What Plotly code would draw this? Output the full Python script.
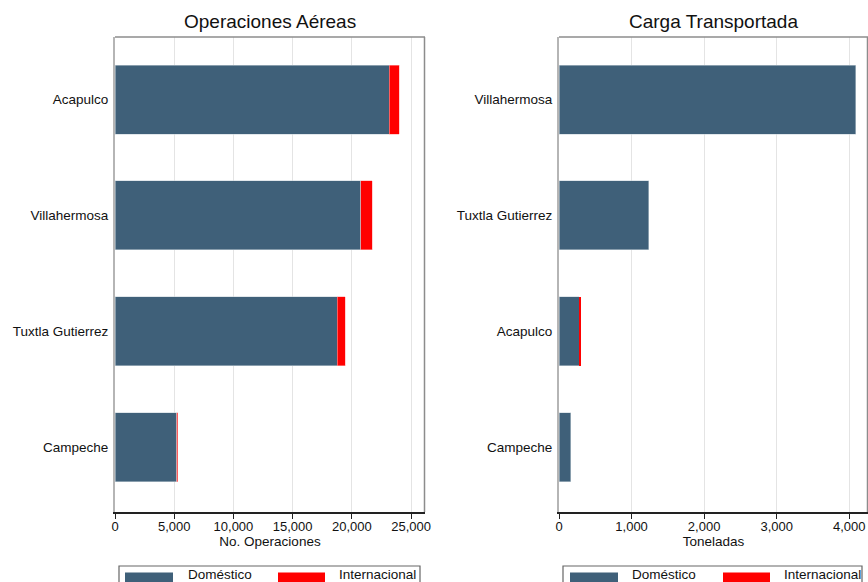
import plotly.graph_objects as go

# ---------------- data ----------------
ops_cats = ["Acapulco", "Villahermosa", "Tuxtla Gutierrez", "Campeche"]
ops_dom = [23170, 20740, 18760, 5200]
ops_int = [815, 990, 680, 100]

cargo_cats = ["Villahermosa", "Tuxtla Gutierrez", "Acapulco", "Campeche"]
cargo_dom = [4088, 1237, 276, 161]
cargo_int = [0, 0, 14, 0]

ops_ticks = [0, 5000, 10000, 15000, 20000, 25000]
cargo_ticks = [0, 1000, 2000, 3000, 4000]

legend_names = ["Doméstico", "Internacional"]

# ---------------- style ----------------
W, H = 868, 582
DOM_COLOR = "#3F6079"
INT_COLOR = "#FF0000"
EDGE = "rgba(200,210,218,0.9)"
FONT = "Liberation Sans, Arial, Helvetica, sans-serif"
GRID = "#E4E4E4"
BOX = "#8C8C8C"

def px_x(p):
    return p / W

def px_y(p):
    return 1 - p / H

top_px, bot_px = 37, 512
left_dom = [px_x(115), px_x(425)]
right_dom = [px_x(559), px_x(868)]
y_dom = [px_y(bot_px), px_y(top_px)]

fig = go.Figure()

fig.add_trace(go.Bar(y=ops_cats, x=ops_dom, orientation="h", name=legend_names[0],
                     marker=dict(color=DOM_COLOR, line=dict(color=EDGE, width=0.6)),
                     xaxis="x", yaxis="y", showlegend=False))
fig.add_trace(go.Bar(y=ops_cats, x=ops_int, orientation="h", name=legend_names[1],
                     marker=dict(color=INT_COLOR, line=dict(color="rgba(255,170,170,0.9)", width=0.6)),
                     xaxis="x", yaxis="y", showlegend=False))
fig.add_trace(go.Bar(y=cargo_cats, x=cargo_dom, orientation="h", name=legend_names[0],
                     marker=dict(color=DOM_COLOR, line=dict(color=EDGE, width=0.6)),
                     xaxis="x2", yaxis="y2", showlegend=False))
fig.add_trace(go.Bar(y=cargo_cats, x=cargo_int, orientation="h", name=legend_names[1],
                     marker=dict(color=INT_COLOR, line=dict(width=0)),
                     xaxis="x2", yaxis="y2", showlegend=False))

xcommon = dict(showgrid=True, gridcolor=GRID, gridwidth=1, zeroline=False,
               showline=True, linecolor="#222222", linewidth=1.5,
               ticks="outside", ticklen=5, tickcolor="#222222", tickwidth=1.2,
               ticklabelstandoff=-3,
               tickformat=",", tickfont=dict(size=13, color="#111111"),
               title_font=dict(size=13.5, color="#111111"), title_standoff=3,
               automargin=False)
ycommon = dict(type="category", showgrid=False, zeroline=False, showline=True,
               linecolor="#B5B5B5", linewidth=2, ticks="", ticklabelstandoff=2,
               tickfont=dict(size=13.5, color="#111111"), range=[3.56, -0.54],
               automargin=False)

fig.update_layout(
    width=W, height=H,
    margin=dict(l=0, r=0, t=0, b=0, autoexpand=False),
    paper_bgcolor="white", plot_bgcolor="white",
    font=dict(family=FONT, color="#111111"),
    barmode="stack", bargap=0.404,
    xaxis=dict(domain=left_dom, anchor="y", range=[0, 26175], tickvals=ops_ticks,
               title_text="No. Operaciones", **xcommon),
    yaxis=dict(domain=y_dom, anchor="x", **ycommon),
    xaxis2=dict(domain=right_dom, anchor="y2", range=[0, 4258], tickvals=cargo_ticks,
                title_text="Toneladas", **xcommon),
    yaxis2=dict(domain=y_dom, anchor="x2", **ycommon),
)

shapes = []
annotations = []
# plot boxes (top & right edges)
for (x0, x1) in [(115, 425), (559, 868)]:
    shapes.append(dict(type="line", xref="paper", yref="paper",
                       x0=px_x(x0), x1=px_x(x1), y0=px_y(top_px), y1=px_y(top_px),
                       line=dict(color=BOX, width=1.5)))
    shapes.append(dict(type="line", xref="paper", yref="paper",
                       x0=px_x(x1 - 0.5), x1=px_x(x1 - 0.5), y0=px_y(top_px), y1=px_y(bot_px),
                       line=dict(color=BOX, width=1.5)))

# titles
annotations.append(dict(text="Operaciones Aéreas", xref="paper", yref="paper",
                        x=px_x(270), y=px_y(22), showarrow=False,
                        font=dict(size=19, color="#111111"), xanchor="center", yanchor="middle"))
annotations.append(dict(text="Carga Transportada", xref="paper", yref="paper",
                        x=px_x(713.5), y=px_y(22), showarrow=False,
                        font=dict(size=19, color="#111111"), xanchor="center", yanchor="middle"))

# legends (drawn as boxes with swatches)
for (bx0, bx1, s1, t1, s2, t2) in [(119, 420, 125, 186, 278, 337),
                                    (563, 862, 570, 630, 723, 782)]:
    shapes.append(dict(type="rect", xref="paper", yref="paper",
                       x0=px_x(bx0), x1=px_x(bx1), y0=px_y(590), y1=px_y(566),
                       line=dict(color="#666666", width=1.2), fillcolor="white"))
    shapes.append(dict(type="rect", xref="paper", yref="paper",
                       x0=px_x(s1), x1=px_x(s1 + 48), y0=px_y(585), y1=px_y(572.5),
                       line=dict(width=0), fillcolor=DOM_COLOR))
    shapes.append(dict(type="rect", xref="paper", yref="paper",
                       x0=px_x(s2), x1=px_x(s2 + 47), y0=px_y(585), y1=px_y(572.5),
                       line=dict(width=0), fillcolor=INT_COLOR))
    annotations.append(dict(text=legend_names[0], xref="paper", yref="paper",
                            x=px_x(t1), y=px_y(574), xanchor="left", yanchor="middle",
                            showarrow=False, font=dict(size=13.5, color="#111111")))
    annotations.append(dict(text=legend_names[1], xref="paper", yref="paper",
                            x=px_x(t2), y=px_y(574), xanchor="left", yanchor="middle",
                            showarrow=False, font=dict(size=13.5, color="#111111")))

fig.update_layout(shapes=shapes, annotations=annotations)
fig.write_html("out.html", config={"displayModeBar": False},
               post_script="document.body.style.margin='0';document.body.style.overflow='hidden';")
